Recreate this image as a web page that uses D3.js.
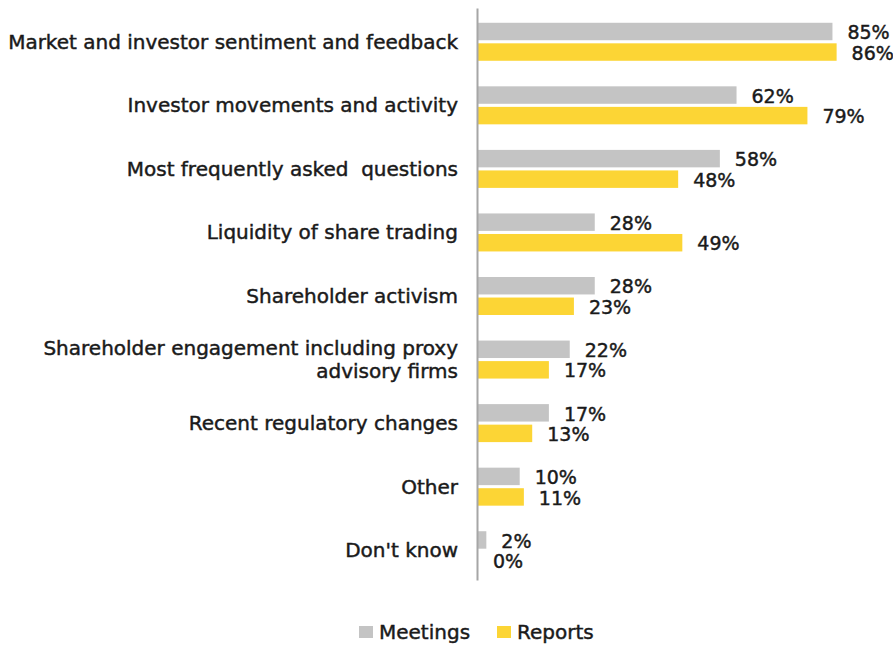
<!DOCTYPE html>
<html>
<head>
<meta charset="utf-8">
<script src="https://cdn.jsdelivr.net/npm/d3@7"></script>
<style>
  body { margin: 0; background: #fff; }
  text { font-family: "DejaVu Sans", sans-serif; fill: #1a1a1a; stroke: #1a1a1a; stroke-width: 0.45px; white-space: pre; }
</style>
</head>
<body>
<script>
const w = 893;
const h = 646;

const categories = [
  ["Market and investor sentiment and feedback"],
  ["Investor movements and activity"],
  ["Most frequently asked  questions"],
  ["Liquidity of share trading"],
  ["Shareholder activism"],
  ["Shareholder engagement including proxy", "advisory firms"],
  ["Recent regulatory changes"],
  ["Other"],
  ["Don't know"]
];
const series = ["Meetings", "Reports"];
const meetings = [85, 62, 58, 28, 28, 22, 17, 10, 2];
const reports = [86, 79, 48, 49, 23, 17, 13, 11, 0];
const colors = ["#c4c4c4", "#fcd535"];

const data = categories.map((c, i) => ({
  key: c.join(" "),
  lines: c,
  values: [meetings[i], reports[i]]
}));

const svg = d3.select("body")
  .append("svg")
  .attr("width", w)
  .attr("height", h);

const x0 = 478;
const xScale = d3.scaleLinear()
  .domain([0, 100])
  .range([x0, x0 + 417]);

const yScale = d3.scaleBand()
  .domain(data.map(d => d.key))
  .range([10, 582]);

const inner = d3.scaleBand()
  .domain(series)
  .range([-19, 19])
  .paddingInner(0.15);

const fs = 19;
const catFs = 20;

// BARS
const rows = svg.selectAll("g.row")
  .data(data)
  .join("g")
  .attr("class", "row")
  .attr("transform", d => `translate(0, ${yScale(d.key) + yScale.bandwidth() / 2})`);

rows.selectAll("rect")
  .data(d => d.values.map((v, j) => ({ s: series[j], v, j })))
  .join("rect")
  .attr("x", xScale(0))
  .attr("y", d => inner(d.s))
  .attr("width", d => xScale(d.v) - xScale(0))
  .attr("height", inner.bandwidth())
  .attr("fill", d => colors[d.j]);

rows.selectAll("text.val")
  .data(d => d.values.map((v, j) => ({ s: series[j], v, j })))
  .join("text")
  .attr("class", "val")
  .attr("x", d => xScale(d.v) + 15)
  .attr("y", d => inner(d.s) + inner.bandwidth() / 2 + 1)
  .attr("dy", "0.35em")
  .attr("font-size", fs)
  .text(d => d.v + "%");

// CATEGORY LABELS
rows.append("text")
  .attr("class", "cat")
  .attr("x", 458)
  .attr("text-anchor", "end")
  .attr("font-size", catFs)
  .selectAll("tspan")
  .data(d => d.lines.map((l, k) => ({ l, k, n: d.lines.length })))
  .join("tspan")
  .attr("x", 458)
  .attr("y", d => (d.k - (d.n - 1) / 2) * 23)
  .attr("dy", "0.35em")
  .text(d => d.l);

// AXIS
svg.append("g")
  .attr("transform", `translate(${x0 - 1}, 0)`)
  .call(d3.axisLeft(d3.scaleLinear().range([8, 580])).tickValues([]).tickSizeOuter(0))
  .select(".domain")
  .attr("stroke", "#a6a6a6")
  .attr("stroke-width", 2);

// LEGEND
const legend = svg.append("g")
  .attr("transform", "translate(359, 632)");

const lx = [0, 138];
series.forEach((s, i) => {
  const g = legend.append("g").attr("transform", `translate(${lx[i]}, 0)`);
  g.append("rect")
    .attr("x", 0)
    .attr("y", -6)
    .attr("width", 14)
    .attr("height", 12)
    .attr("fill", colors[i])
    .attr("stroke", "none");
  g.append("text")
    .attr("x", 20)
    .attr("dy", "0.35em")
    .attr("font-size", catFs)
    .text(s);
});
</script>
</body>
</html>
